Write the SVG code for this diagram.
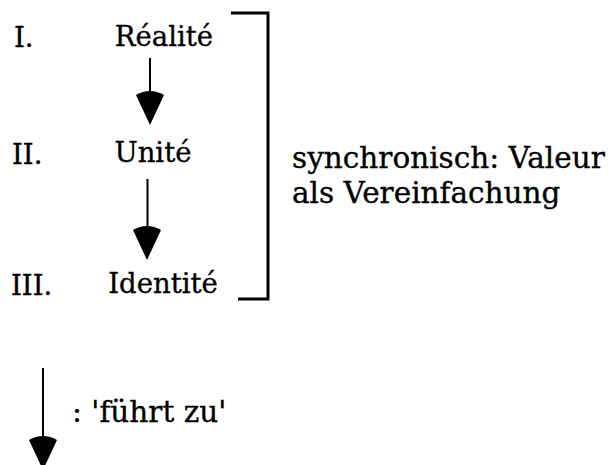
<svg xmlns="http://www.w3.org/2000/svg" width="610" height="465" viewBox="0 0 610 465">
  <defs>
    <style>
      text { font-family: "DejaVu Serif", "Liberation Serif", serif; fill: #000; stroke: #000; stroke-width: 0.35px; }
      .lbl { font-size: 27.5px; }
      .note { font-size: 29.5px; }
      .shaft { stroke: #000; stroke-width: 2; fill: none; }
      .bracket { stroke: #000; stroke-width: 3; fill: none; }
    </style>
    <!-- arrowhead with a rounded back, tip at the origin -->
    <path id="head" d="M-14,-30 Q0,-38 14,-30 L0,0 Z" fill="#000"/>
  </defs>
  <rect width="610" height="465" fill="#fff"/>

  <g id="connectors">
    <line class="shaft" x1="150" y1="58" x2="150" y2="95"/>
    <use href="#head" x="150" y="125"/>
    <line class="shaft" x1="147.5" y1="179" x2="147.5" y2="230"/>
    <use href="#head" x="147" y="260"/>
    <path class="bracket" d="M231,13 H268 V299 H238"/>
  </g>

  <g id="level-1">
    <text class="lbl" x="14" y="47">I.</text>
    <text class="lbl" x="164" y="46" text-anchor="middle">Réalité</text>
  </g>
  <g id="level-2">
    <text class="lbl" x="12" y="164">II.</text>
    <text class="lbl" x="153" y="162" text-anchor="middle">Unité</text>
  </g>
  <g id="level-3">
    <text class="lbl" x="11" y="295">III.</text>
    <text class="lbl" x="163" y="293" text-anchor="middle">Identité</text>
  </g>

  <g id="synchron">
    <text class="note" x="292" y="168">synchronisch: Valeur</text>
    <text class="note" x="292" y="203">als Vereinfachung</text>
  </g>

  <g id="legend">
    <line class="shaft" x1="43" y1="368" x2="43" y2="440"/>
    <use href="#head" x="43" y="470"/>
    <text class="note" x="72" y="422">: 'führt zu'</text>
  </g>
</svg>
